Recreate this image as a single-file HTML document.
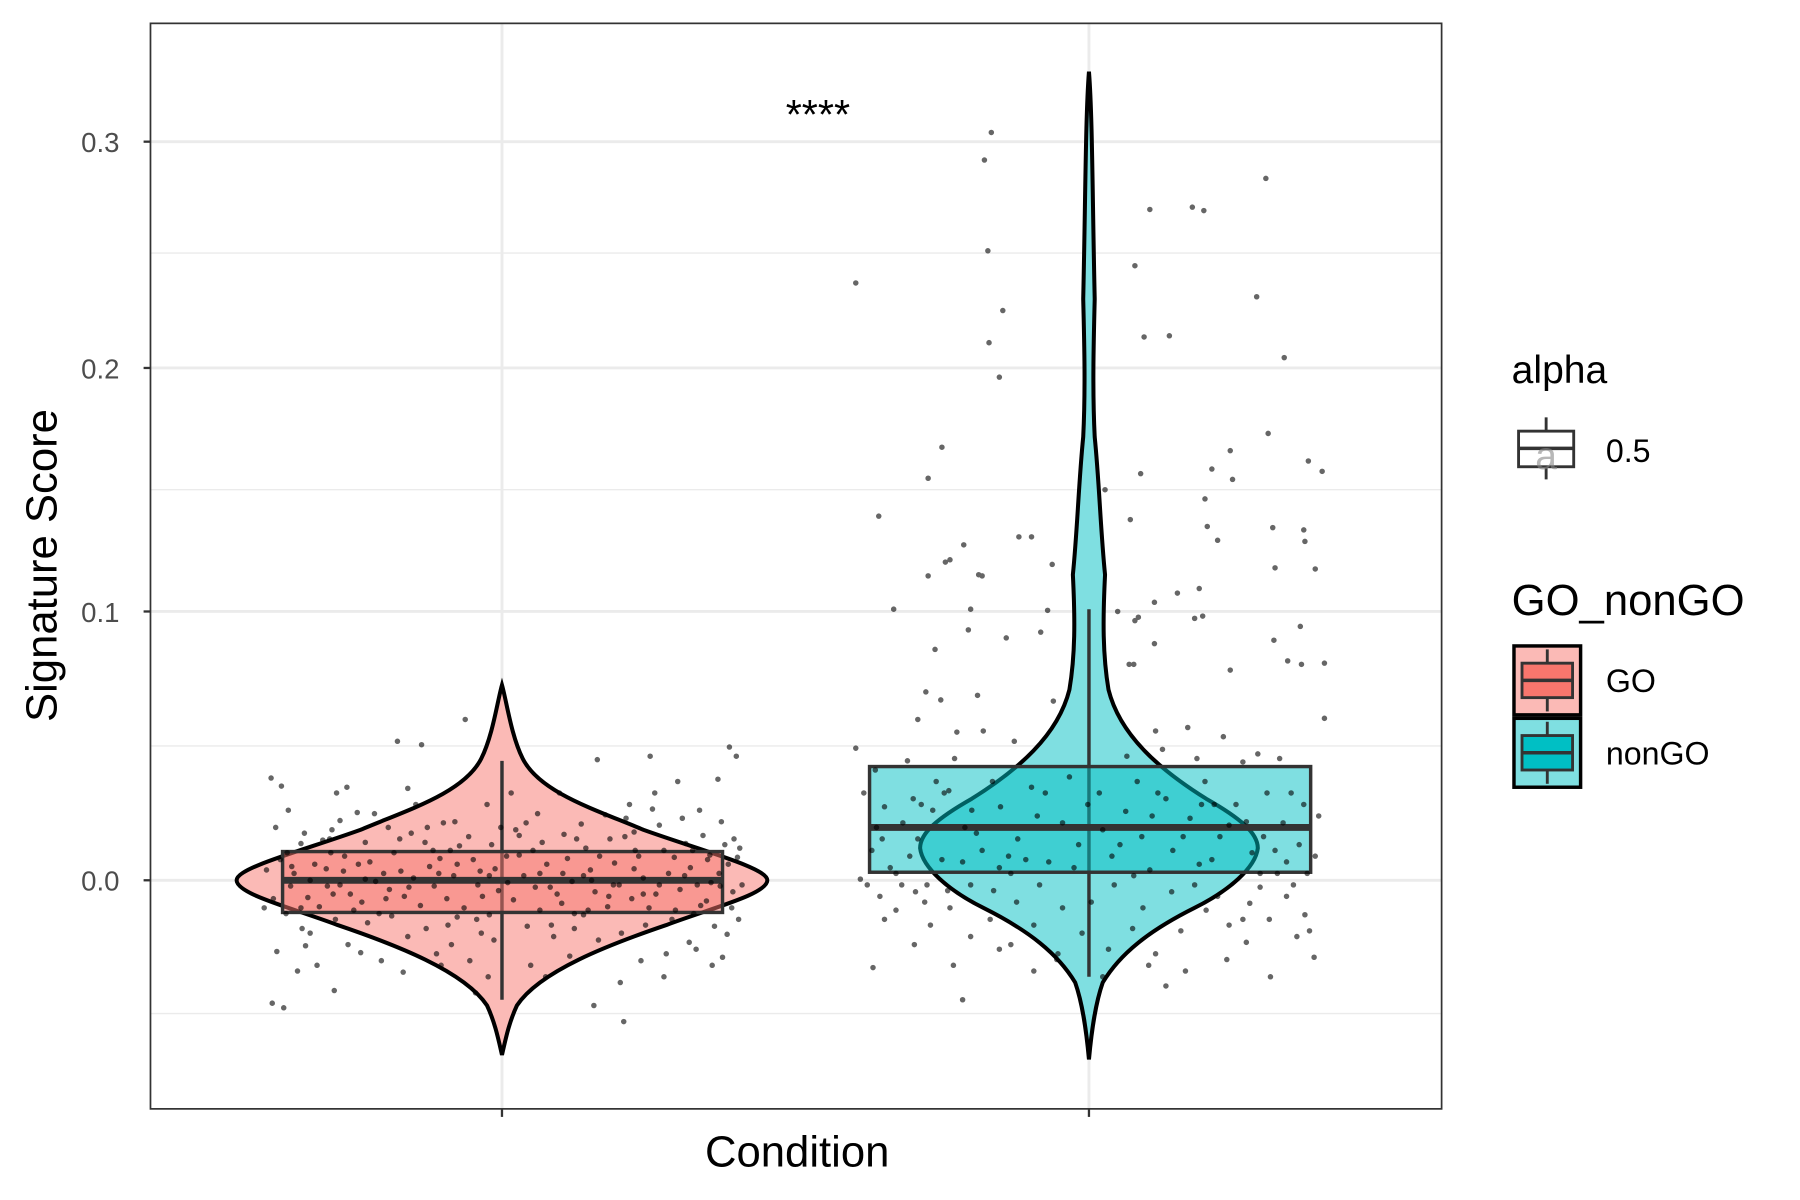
<!DOCTYPE html>
<html><head><meta charset="utf-8"><style>
html,body{margin:0;padding:0;background:#fff;}
svg{display:block;font-family:"Liberation Sans",sans-serif;}
</style></head><body>
<svg width="1800" height="1200" viewBox="0 0 1567 1044" xmlns="http://www.w3.org/2000/svg" xmlns:xlink="http://www.w3.org/1999/xlink">
<rect x="0" y="0" width="1567" height="1044" fill="#fff"/>
<g stroke="#ebebeb" stroke-width="1.2">
<line x1="131" x2="1255" y1="220" y2="220"/><line x1="131" x2="1255" y1="426" y2="426"/>
<line x1="131" x2="1255" y1="649" y2="649"/><line x1="131" x2="1255" y1="882" y2="882"/>
</g>
<g stroke="#ebebeb" stroke-width="2.5">
<line x1="131" x2="1255" y1="123" y2="123"/><line x1="131" x2="1255" y1="320" y2="320"/>
<line x1="131" x2="1255" y1="532" y2="532"/><line x1="131" x2="1255" y1="766" y2="766"/>
<line x1="437" x2="437" y1="20" y2="965"/><line x1="948" x2="948" y1="20" y2="965"/>
</g>

<path d="M437,596 C441,610 445,640 455,660 C470,690 520,705 560,722 C610,740 668,755 668,766 C668,778 620,790 580,805 C530,822 470,845 450,875 C443,890 440,905 437,918 C434,905 431,890 424,875 C404,845 344,822 294,805 C254,790 206,778 206,766 C206,755 264,740 314,722 C354,705 404,690 419,660 C429,640 433,610 437,596 Z" fill="#fbbab6" stroke="#000" stroke-width="3.5"/>
<path d="M948,62 C951,100 951,170 953,260 C952,300 951,340 953,380 C957,420 958,460 962,500 C960,540 960,570 965,600 C975,640 1010,670 1050,695 C1080,712 1095,725 1095,738 C1093,755 1070,775 1040,790 C1000,810 975,830 960,855 C953,875 950,900 948,922 C946,900 943,875 936,855 C921,830 896,810 856,790 C826,775 803,755 801,738 C801,725 816,712 846,695 C886,670 921,640 931,600 C936,570 936,540 934,500 C938,460 939,420 943,380 C945,340 944,300 943,260 C945,170 945,100 948,62 Z" fill="#7fdfe1" stroke="#000" stroke-width="3.5"/>

<line x1="437" x2="437" y1="662" y2="870" stroke="#333" stroke-width="3"/>
<rect x="246" y="741" width="383" height="53" fill="rgba(248,118,109,0.5)" stroke="#333" stroke-width="3"/>
<line x1="246" x2="629" y1="766" y2="766" stroke="#333" stroke-width="6"/>
<line x1="948" x2="948" y1="530" y2="850" stroke="#333" stroke-width="3"/>
<rect x="757" y="667" width="384" height="92" fill="rgba(0,191,196,0.5)" stroke="#333" stroke-width="3"/>
<line x1="757" x2="1141" y1="720" y2="720" stroke="#333" stroke-width="6"/>

<path id="gop" stroke="#000" stroke-opacity="0.6" stroke-width="4.8" stroke-linecap="round" fill="none" d="
M236 677h0M251 705h0M240 720h0M262 734h0M244 748h0M256 760h0M238 782h0M249 795h0M263 808h0M241 828h0M237 873h0M247 877h0M259 845h0M270 812h0M278 789h0M285 771h0M274 752h0M281 731h0M293 690h0M296 714h0M288 742h0M299 758h0M305 778h0M292 800h0M303 822h0M291 862h0
M311 707h0M318 733h0M322 750h0M327 767h0M315 785h0M320 803h0M332 836h0M338 720h0M346 645h0M343 742h0M349 758h0M352 780h0M341 797h0M355 815h0M351 846h0M362 700h0M367 648h0M370 733h0M374 754h0M378 771h0M366 788h0M371 808h0M380 830h0
M386 716h0M392 740h0M395 762h0M389 782h0M398 798h0M393 822h0M405 626h0M408 728h0M412 748h0M416 770h0M404 790h0M419 812h0M409 836h0M414 864h0M424 700h0M428 735h0M431 756h0M434 775h0M426 796h0M430 818h0
M445 690h0M449 722h0M452 744h0M456 762h0M447 783h0M459 806h0M462 840h0M468 708h0M472 733h0M476 752h0M479 772h0M470 792h0M482 815h0M487 690h0M491 726h0M494 747h0M498 767h0M489 786h0M500 808h0M496 832h0
M506 717h0M510 738h0M514 757h0M518 776h0M508 796h0M520 661h0M521 818h0M517 875h0M527 709h0M531 730h0M535 751h0M539 770h0M529 789h0M541 812h0M543 889h0M548 700h0M552 724h0M556 745h0M560 764h0M550 782h0M562 805h0M558 836h0
M566 658h0M570 690h0M574 718h0M578 740h0M582 760h0M571 778h0M585 800h0M580 830h0M590 680h0M594 712h0M597 734h0M601 755h0M592 774h0M604 795h0M600 820h0M609 705h0M612 727h0M616 748h0M619 768h0M610 788h0M622 806h0M620 840h0
M625 678h0M628 715h0M631 735h0M634 752h0M627 771h0M637 790h0M633 813h0M635 650h0M641 658h0M639 730h0M642 746h0M638 776h0M643 800h0M629 833h0M568 704h0M553 740h0M534 770h0M512 792h0M490 760h0M466 772h0M441 745h0M418 758h0M400 736h0M383 747h0M360 764h0M336 782h0M318 765h0M300 745h0M284 756h0M268 781h0M253 771h0M289 722h0M326 708h0M358 725h0M396 715h0M452 727h0M502 730h0M544 728h0M587 746h0M615 784h0
M245 684h0M302 685h0M355 686h0M266 823h0M314 829h0M384 840h0M425 850h0M475 850h0M540 855h0M578 850h0M606 826h0M276 840h0M230 790h0M232 757h0M646 770h0M644 738h0
"/>
<path stroke="#000" stroke-opacity="0.6" stroke-width="4.8" stroke-linecap="round" fill="none" d="
M250 742h0M270 766h0M290 778h0M312 752h0M334 760h0M356 772h0M377 740h0M398 752h0M420 780h0M442 768h0M464 740h0M485 778h0M508 762h0M530 780h0M552 756h0M574 770h0M596 762h0M618 744h0M262 790h0M287 730h0M330 795h0M372 720h0M415 800h0M458 716h0M500 795h0M545 712h0M588 792h0M626 760h0
M265 725h0M308 792h0M348 730h0M390 805h0M436 720h0M480 805h0M522 745h0M565 790h0M607 770h0M254 754h0M296 770h0M339 774h0M382 760h0M426 762h0M470 760h0M515 766h0M560 778h0M603 740h0
"/>
<path stroke="#000" stroke-opacity="0.6" stroke-width="4.8" stroke-linecap="round" fill="none" d="
M745 246h0M863 115h0M857 139h0M860 218h0M873 270h0M861 298h0M870 328h0M1102 155h0M1001 182h0M1038 180h0M1048 183h0M988 231h0M1094 258h0M996 293h0M1018 292h0M1118 311h0M820 389h0M808 416h0M993 412h0M1104 377h0M1071 392h0M1055 408h0M1073 417h0M1139 401h0M1151 410h0M962 426h0M765 449h0M984 452h0M1049 434h0M1051 458h0M1060 470h0M1108 459h0M1135 461h0M1136 471h0M887 467h0M898 467h0M916 491h0M839 474h0M823 489h0M827 487h0M808 501h0M852 500h0M855 501h0M1110 494h0M1145 495h0M778 530h0M845 530h0M912 531h0M1005 524h0M1025 516h0M1044 512h0M988 540h0M991 537h0M973 532h0M1040 538h0M1047 536h0M843 548h0M876 555h0M906 550h0M1005 560h0M1109 557h0M1132 545h0M1121 575h0M1133 578h0M1153 577h0M983 578h0M987 578h0M1071 583h0M814 565h0M806 602h0M819 609h0M851 605h0M917 610h0M1153 625h0M799 626h0M833 637h0M856 636h0M883 645h0M1006 636h0M1034 633h0M1065 641h0M1095 656h0M745 651h0M762 670h0M790 662h0M831 660h0M981 658h0M1012 652h0M1042 660h0M1082 663h0M1114 660h0
M752 690h0M770 702h0M786 716h0M799 730h0M812 705h0M826 688h0M840 720h0M855 740h0M871 702h0M886 730h0M898 685h0M913 750h0M925 716h0M939 735h0M957 690h0M968 745h0M980 706h0M994 728h0M1008 690h0M1021 740h0M1036 712h0M1049 680h0M1062 728h0M1076 700h0M1090 742h0M1103 690h0M1117 716h0M1131 735h0M1145 745h0M1148 710h0
M759 740h0M775 755h0M792 745h0M807 770h0M822 690h0M838 750h0M864 680h0M880 760h0M903 710h0M931 676h0M960 722h0M987 762h0M1015 695h0M1044 752h0M1070 718h0M1097 760h0M1124 690h0M1138 760h0M763 720h0M802 700h0M846 705h0M893 748h0M947 700h0M1001 757h0M1057 700h0M1110 740h0
M749 765h0M766 780h0M780 792h0M797 776h0M810 805h0M827 790h0M845 815h0M862 800h0M880 822h0M900 805h0M921 830h0M942 812h0M965 826h0M986 808h0M1006 830h0M1028 810h0M1050 792h0M1070 805h0M1088 786h0M1105 800h0M1120 780h0M1136 796h0M1140 810h0M1126 770h0M1112 760h0M1097 772h0M1082 800h0M1060 780h0M1040 770h0M1020 776h0M995 790h0M970 770h0M950 785h0M925 790h0M905 770h0M885 785h0M865 775h0M845 770h0M825 775h0M805 785h0M785 770h0M770 800h0M755 770h0
M760 842h0M796 822h0M830 840h0M838 870h0M870 826h0M900 845h0M1015 858h0M1032 845h0M1068 835h0M1106 850h0M1144 833h0M1129 815h0M1085 820h0M1000 840h0M960 850h0M920 835h0
M768 730h0M795 695h0M820 748h0M850 725h0M878 745h0M910 690h0M935 755h0M975 735h0M1003 710h0M1030 728h0M1055 748h0M1085 715h0M1120 750h0M1135 700h0M780 760h0M815 680h0M870 755h0M990 680h0M1046 700h0M1100 728h0
"/>

<rect x="131" y="20" width="1124" height="945" fill="none" stroke="#333" stroke-width="1.5"/>
<g stroke="#333" stroke-width="2">
<line x1="125" x2="131" y1="123" y2="123"/><line x1="125" x2="131" y1="320" y2="320"/>
<line x1="125" x2="131" y1="532" y2="532"/><line x1="125" x2="131" y1="766" y2="766"/>
<line x1="437" x2="437" y1="965" y2="972"/><line x1="948" x2="948" y1="965" y2="972"/>
</g>
<g fill="#4d4d4d" font-size="24" text-anchor="end">
<text x="104" y="132">0.3</text><text x="104" y="329">0.2</text>
<text x="104" y="541">0.1</text><text x="104" y="775">0.0</text>
</g>
<text x="694" y="1015" font-size="38" text-anchor="middle">Condition</text>
<text transform="translate(49,492) rotate(-90)" font-size="38" text-anchor="middle">Signature Score</text>
<text x="712" y="112" font-size="36" text-anchor="middle">****</text>
<text x="1316" y="333" font-size="34">alpha</text>
<g stroke="#333" stroke-width="2.5" fill="none">
<line x1="1346" x2="1346" y1="363" y2="417"/>
<rect x="1322" y="375" width="48" height="31" fill="#fff"/>
<line x1="1322" x2="1370" y1="390" y2="390" stroke-width="3"/>
</g>
<text x="1346" y="408" font-size="34" fill="#888" text-anchor="middle" opacity="0.6">a</text>
<text x="1398" y="402" font-size="28">0.5</text>
<text x="1316" y="535" font-size="38">GO_nonGO</text>
<rect x="1318" y="562" width="58" height="60" fill="#fbbab6" stroke="#000" stroke-width="3"/>
<g stroke="#333" stroke-width="2.5"><line x1="1347" x2="1347" y1="565" y2="619"/>
<rect x="1325" y="577" width="44" height="30" fill="#f8766d"/><line x1="1325" x2="1369" y1="592" y2="592" stroke-width="3"/></g>
<rect x="1318" y="625" width="58" height="60" fill="#7fdfe1" stroke="#000" stroke-width="3"/>
<g stroke="#333" stroke-width="2.5"><line x1="1347" x2="1347" y1="628" y2="682"/>
<rect x="1325" y="640" width="44" height="30" fill="#00bfc4"/><line x1="1325" x2="1369" y1="655" y2="655" stroke-width="3"/></g>
<text x="1398" y="602" font-size="28">GO</text>
<text x="1398" y="665" font-size="28">nonGO</text>
</svg>
</body></html>
